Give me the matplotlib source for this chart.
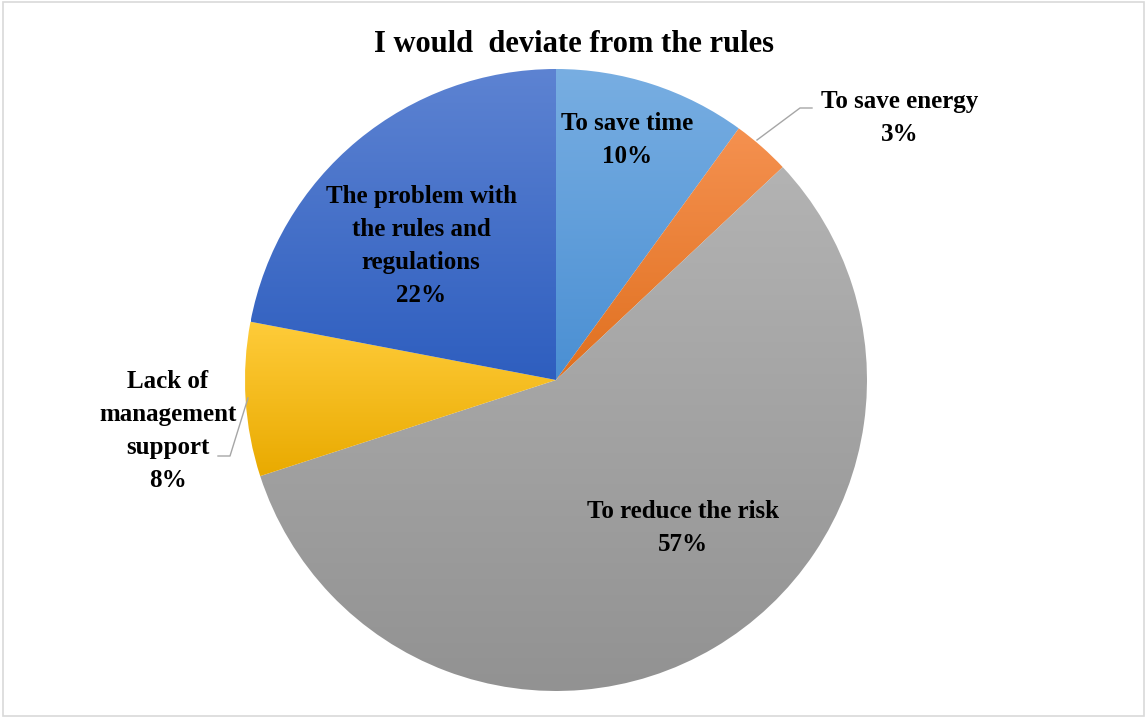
import numpy as np
import matplotlib.pyplot as plt
from matplotlib.patches import Rectangle
from matplotlib.colors import LinearSegmentedColormap

# data
labels = ["To save time", "To save energy", "To reduce the risk",
          "Lack of\nmanagement\nsupport", "The problem with\nthe rules and\nregulations"]
shares = [10, 3, 57, 8, 22]
title = "I would  deviate from the rules"

# colours : top (light) / bottom (dark) of each gradient
tops = ["#78aee2", "#f59150", "#b3b3b3", "#ffcc3a", "#5d83d2"]
bottoms = ["#4a8fd3", "#e0701f", "#929292", "#e9aa00", "#2e5ebf"]

# label positions in pixels (layout) and leader lines
label_pos = [(627, 140), (900, 118), (683, 528), (168, 431), (421, 246)]

W, H = 1145, 717
cx, cy, r = 556, 380, 311

fig = plt.figure(figsize=(W / 100, H / 100), dpi=100)
ax = fig.add_axes([0, 0, 1, 1])

wedges, _ = ax.pie(shares, startangle=90, counterclock=False,
                   center=(cx, H - cy), radius=r, frame=True,
                   wedgeprops=dict(lw=0))
ax.set_xlim(0, W)
ax.set_ylim(0, H)
ax.set_aspect("equal")
ax.axis("off")

# border
ax.add_patch(Rectangle((3, 1), W - 4, H - 3, fill=False, ec="#d9d9d9", lw=1.2))

# vertical gradient fill per wedge, clipped to wedge shape
for w, c0, c1 in zip(wedges, tops, bottoms):
    w.set_facecolor("none")
    bb = w.get_path().get_extents(w.get_transform() - ax.transData)
    cmap = LinearSegmentedColormap.from_list("g", [c1, c0])
    grad = np.linspace(0, 1, 256).reshape(-1, 1)
    im = ax.imshow(grad, cmap=cmap, origin="lower", aspect="auto",
                   extent=[bb.x0, bb.x1, bb.y0, bb.y1], zorder=1,
                   interpolation="bilinear")
    im.set_clip_path(w)

ax.set_xlim(0, W)
ax.set_ylim(0, H)

font = dict(family="Liberation Serif", fontweight="bold", color="black")
for lab, s, (x, y) in zip(labels, shares, label_pos):
    ax.text(x, H - y, f"{lab}\n{s}%", ha="center", va="center",
            fontsize=18, linespacing=1.55, zorder=5, **font)

# leader lines
ax.plot([757, 800, 812], [H - 140, H - 108, H - 108], color="#a6a6a6", lw=1, zorder=4)
ax.plot([248, 230, 218], [H - 398, H - 456, H - 456], color="#a6a6a6", lw=1, zorder=4)

ax.text(574, H - 45, title, ha="center", va="center", fontsize=22, **font)

fig.savefig("out.png", dpi=100)
